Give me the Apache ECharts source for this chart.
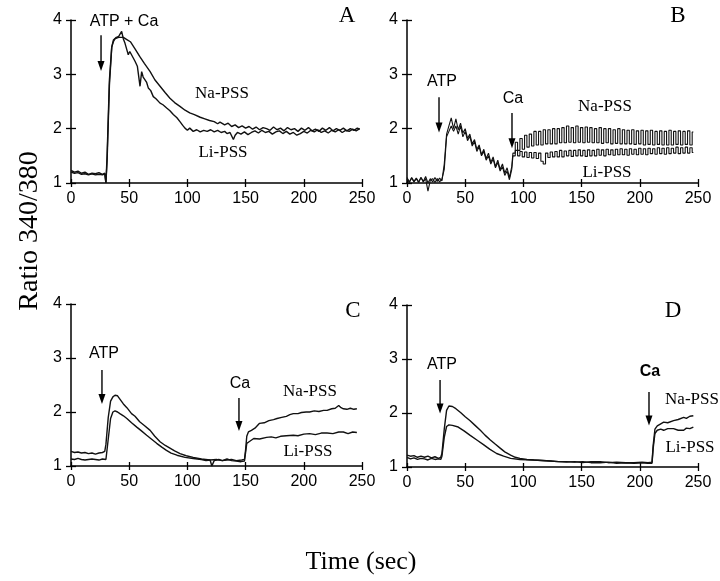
<!DOCTYPE html>
<html><head><meta charset="utf-8">
<script src="https://cdn.jsdelivr.net/npm/echarts/dist/echarts.min.js"></script>
<style>html,body{margin:0;padding:0;background:#fff}#c{width:720px;height:581px}</style>
</head><body><div id="c"></div>
<script>
// ---------- DATA (time in s, ratio 340/380) ----------
const xTicks = [0, 50, 100, 150, 200, 250];
const yTicks = [1, 2, 3, 4];

// Panel A: ATP + Ca
const aNa = [[0,1.2],[3,1.18],[6,1.19],[9,1.16],[12,1.17],[15,1.15],[18,1.17],[21,1.15],[24,1.16],[27,1.15],[29,1.17],[30,1.0],[31,1.5],[33,2.9],[35,3.5],[36.4,3.6],[38,3.66],[41,3.68],[45,3.68],[48,3.64],[51,3.6],[55,3.47],[59,3.33],[63,3.2],[68,3.05],[72,2.9],[76.5,2.78],[81,2.66],[85,2.56],[89,2.48],[93.6,2.41],[98,2.34],[102,2.29],[106,2.26],[111,2.21],[115,2.18],[119,2.15],[123,2.13],[126,2.09],[128,2.12],[132,2.07],[135,2.1],[138,2.04],[141,2.07],[144,2.02],[147,2.05],[150,2.01],[153,2.04],[156,1.99],[159,2.03],[162,1.98],[165,2.02],[168,2.0],[171,1.97],[174,2.03],[177,1.98],[180,2.01],[183,1.96],[186,2.02],[189,1.98],[192,2.0],[195,1.95],[198,2.01],[201,1.97],[204,2.02],[207,1.96],[210,1.99],[213,1.95],[216,2.01],[219,1.97],[222,2.02],[225,1.96],[228,2.0],[231,1.97],[234,2.01],[237,1.96],[240,2.0],[243,1.97],[246,2.01],[248,1.99]];
const aLi = [[0,1.23],[3,1.2],[6,1.22],[9,1.18],[12,1.2],[15,1.16],[18,1.18],[21,1.17],[24,1.19],[27,1.16],[29,1.18],[30,1.0],[31,1.4],[33,2.8],[35,3.5],[36.4,3.63],[39,3.68],[41,3.7],[43.5,3.79],[45,3.65],[46.4,3.57],[48,3.45],[49.2,3.36],[50.5,3.42],[52.1,3.45],[53.5,3.3],[55,3.24],[57,3.15],[59.3,2.78],[60.7,3.05],[62,2.95],[63.6,2.98],[65,2.85],[66.4,2.75],[68.5,2.7],[70.7,2.59],[73,2.55],[76.5,2.47],[79,2.44],[82.2,2.38],[85,2.33],[87.9,2.26],[91,2.2],[93.6,2.13],[96,2.06],[97.9,2.01],[100,1.97],[102,2.01],[105,1.95],[108,1.98],[111,1.94],[114,1.97],[117,1.95],[120,1.98],[123,1.94],[126,1.97],[129,1.93],[132,1.95],[134,1.91],[136.6,1.93],[139.5,1.8],[141,1.88],[143,1.93],[146,1.9],[149,1.94],[152,1.89],[155,1.93],[158,1.96],[161,1.92],[164,1.97],[167,1.93],[170,1.95],[173,1.9],[176,1.94],[179,1.96],[182,1.91],[185,1.95],[188,1.9],[191,1.93],[194,1.88],[197,1.91],[200,1.95],[203,1.92],[206,1.97],[209,1.94],[212,1.98],[215,1.93],[218,1.96],[221,1.92],[224,1.97],[227,1.94],[230,1.98],[233,1.93],[236,1.97],[239,1.95],[242,1.99],[245,1.96],[248,2.0]];

// Panel B: ATP then Ca (oscillating trace)
const bTime = [0,2,4,6,8,10,12,14,16,18, 20,22,24,26,28,30,32,34,36,38, 40,42,44,46,48,50,52,54,56,58, 60,62,64,66,68,70,72,74,76,78, 80,82,84,86,88,90,92,94,96,98, 100,102,104,106,108,110,112,114,116,118, 120,122,124,126,128,130,132,134,136,138, 140,142,144,146,148,150,152,154,156,158, 160,162,164,166,168,170,172,174,176,178, 180,182,184,186,188,190,192,194,196,198, 200,202,204,206,208,210,212,214,216,218, 220,222,224,226,228,230,232,234,236,238, 240,242,244,246];
const bNa = [1.1,1.02,1.1,1.03,1.09,1.02,1.1,1.03,1.12,1.0, 1.08,1.02,1.1,1.03,1.09,1.04,1.35,1.9,2.05,2.2, 2.0,2.18,1.98,2.1,1.92,2.0,1.82,1.9,1.72,1.8, 1.62,1.7,1.52,1.62,1.45,1.55,1.38,1.48,1.3,1.42, 1.25,1.35,1.18,1.28,1.1,1.3,1.55,1.75,1.6,1.82, 1.62,1.88,1.66,1.9,1.68,1.95,1.7,1.95,1.7,1.98, 1.72,1.98,1.72,2.0,1.72,2.0,1.74,2.02,1.74,2.05, 1.75,2.02,1.74,2.05,1.75,2.02,1.74,2.03,1.75,2.02, 1.74,2.0,1.74,2.02,1.73,2.0,1.74,2.0,1.72,1.98, 1.73,2.0,1.72,1.98,1.72,1.97,1.72,1.98,1.71,1.96, 1.72,1.97,1.7,1.96,1.71,1.97,1.7,1.95,1.71,1.96, 1.7,1.95,1.7,1.97,1.7,1.95,1.71,1.96,1.7,1.95, 1.71,1.96,1.7,1.94];
const bLi = [1.08,1.01,1.09,1.02,1.08,1.01,1.1,1.02,1.08,0.85, 1.05,1.08,1.01,1.08,1.02,1.07,1.25,1.85,1.95,2.05, 1.95,2.05,1.9,2.05,1.85,1.95,1.78,1.86,1.68,1.76, 1.58,1.67,1.5,1.58,1.42,1.5,1.35,1.44,1.28,1.38, 1.22,1.3,1.14,1.22,1.06,1.25,1.5,1.6,1.5,1.58, 1.48,1.57,1.47,1.56,1.46,1.56,1.45,1.55,1.4,1.35, 1.55,1.47,1.57,1.48,1.58,1.48,1.6,1.48,1.59,1.5, 1.6,1.49,1.6,1.5,1.61,1.5,1.6,1.49,1.61,1.5, 1.6,1.5,1.62,1.51,1.61,1.5,1.62,1.52,1.61,1.51, 1.62,1.52,1.63,1.52,1.62,1.51,1.63,1.53,1.62,1.52, 1.64,1.53,1.63,1.52,1.64,1.54,1.63,1.53,1.65,1.54, 1.64,1.53,1.65,1.54,1.64,1.55,1.66,1.54,1.65,1.55, 1.66,1.55,1.65,1.56];
const bCaIndex = 45; // index of the Ca addition (t = 90 s) in bTime

// Panel C: ATP, Ca at 150 s
const cNa = [[0,1.27],[3,1.25],[6,1.26],[9,1.24],[12,1.25],[15,1.23],[18,1.24],[21,1.22],[24,1.24],[27,1.25],[29,1.27],[30,1.4],[32,1.9],[34,2.2],[36,2.28],[37.8,2.31],[40,2.3],[42,2.24],[45,2.15],[48,2.08],[52,1.97],[55,1.92],[59,1.82],[63,1.75],[68,1.66],[72,1.55],[76.5,1.45],[81,1.38],[85,1.33],[89,1.28],[93.7,1.23],[99,1.19],[105,1.16],[112,1.13],[119.5,1.11],[125,1.12],[130,1.1],[134,1.11],[138,1.12],[142,1.1],[146.7,1.11],[149,1.12],[150,1.3],[151,1.55],[152.4,1.63],[155,1.66],[158,1.7],[162,1.79],[166,1.8],[170,1.84],[174,1.86],[177,1.88],[181,1.9],[185,1.92],[188,1.95],[191,1.97],[195,1.97],[198,1.99],[202,2.0],[205,2.0],[209,2.02],[213,2.01],[217,2.03],[220,2.03],[224,2.06],[227,2.07],[230,2.12],[232,2.08],[234,2.06],[237,2.05],[240,2.07],[243,2.05],[245.6,2.06]];
const cLi = [[0,1.13],[3,1.12],[6,1.14],[9,1.12],[12,1.11],[15,1.12],[18,1.13],[21,1.12],[24,1.11],[27,1.13],[30,1.12],[31,1.14],[32,1.5],[34,1.88],[36,2.0],[37.8,2.02],[40,2.0],[42,1.97],[45,1.93],[48,1.88],[52,1.8],[56.5,1.72],[60,1.66],[65,1.57],[69,1.5],[73.6,1.42],[78,1.35],[82,1.29],[86,1.24],[91,1.2],[98,1.16],[105,1.14],[112,1.12],[116,1.1],[119.5,1.11],[121,1.0],[123,1.1],[127,1.12],[130,1.1],[134,1.13],[138,1.1],[142,1.09],[146,1.08],[149,1.09],[150,1.25],[151,1.42],[153,1.45],[157,1.51],[162,1.5],[168,1.53],[172,1.54],[176,1.52],[180,1.55],[185,1.56],[191,1.57],[195,1.56],[200,1.59],[205,1.6],[210,1.58],[215,1.61],[220,1.61],[225,1.6],[230,1.63],[234,1.63],[238,1.6],[242,1.63],[245.6,1.62]];

// Panel D: ATP, Ca at 210 s
const dNa = [[0,1.22],[3,1.2],[6,1.21],[9,1.18],[12,1.2],[15,1.18],[18,1.2],[21,1.17],[24,1.19],[27,1.16],[29,1.18],[30,1.25],[32,1.7],[34,2.05],[36,2.13],[37,2.15],[39,2.12],[42,2.08],[46,2.01],[50,1.93],[54,1.86],[58,1.78],[63,1.68],[67,1.59],[71.6,1.5],[76,1.42],[80,1.35],[84,1.28],[89,1.22],[93,1.18],[97,1.16],[103,1.14],[109,1.13],[116,1.12],[123,1.11],[130,1.1],[137,1.09],[144,1.1],[151,1.08],[158,1.1],[166,1.1],[173,1.08],[180,1.09],[188,1.08],[195,1.08],[202,1.09],[207,1.08],[210.5,1.09],[211.5,1.4],[213,1.7],[215,1.76],[218,1.8],[220.5,1.83],[224,1.82],[229,1.86],[233,1.88],[237.7,1.92],[240,1.9],[243,1.94],[246,1.95]];
const dLi = [[0,1.18],[3,1.15],[6,1.17],[9,1.14],[12,1.16],[15,1.15],[18,1.13],[21,1.16],[24,1.14],[27,1.15],[29,1.14],[30,1.2],[32,1.55],[34,1.75],[36,1.78],[39,1.77],[44,1.74],[49,1.67],[54,1.59],[60,1.5],[66,1.41],[71,1.33],[77,1.25],[83,1.2],[89,1.16],[97,1.14],[109,1.13],[116,1.12],[123,1.11],[130,1.1],[137,1.1],[144,1.09],[151,1.1],[158,1.08],[166,1.08],[173,1.09],[180,1.07],[188,1.08],[195,1.07],[202,1.08],[207,1.07],[210.5,1.07],[211.5,1.35],[213,1.62],[215,1.68],[218,1.7],[220.5,1.68],[224,1.71],[229,1.71],[233,1.68],[237.7,1.68],[240,1.72],[243,1.71],[246,1.74]];

// Annotation arrows (panel index, time, top value, tip value)
const arrows = [
  {g:0, t:25.8, from:3.72, to:3.06},
  {g:1, t:27.5, from:2.58, to:1.93},
  {g:1, t:90.2, from:2.29, to:1.64},
  {g:2, t:26.6, from:2.78, to:2.15},
  {g:2, t:144.3, from:2.26, to:1.65},
  {g:3, t:28.4, from:2.61, to:1.99},
  {g:3, t:207.9, from:2.39, to:1.77}
];

// ---------- LAYOUT ----------
const grids = [
  {left:71, top:20, width:291, height:163},
  {left:407, top:20, width:291, height:163},
  {left:71, top:304, width:291, height:162},
  {left:407, top:305, width:291, height:162}
];
const LBL = {color:'#000', fontFamily:'"Liberation Sans", Arial, sans-serif', fontSize:16};
function xAx(g, inside){
  return {type:'value', gridIndex:g, position:'bottom', min:xTicks[0], max:xTicks[xTicks.length-1], interval:xTicks[1]-xTicks[0],
    axisLine:{show:!inside, onZero:false, lineStyle:{color:'#000', width:1.5}},
    axisTick:{show:true, inside:inside, length:4, lineStyle:{color:'#000', width:1.3}},
    axisLabel:Object.assign({show:!inside, margin:8}, LBL), splitLine:{show:false}};
}
function yAx(g, inside){
  return {type:'value', gridIndex:g, position:'left', min:yTicks[0], max:yTicks[yTicks.length-1], interval:1,
    axisLine:{show:!inside, onZero:false, lineStyle:{color:'#000', width:1.5}},
    axisTick:{show:true, inside:inside, length:5, lineStyle:{color:'#000', width:1.3}},
    axisLabel:Object.assign({show:!inside, margin:9}, LBL), splitLine:{show:false}};
}
const xAxis = [], yAxis = [];
for (let g=0; g<4; g++){ xAxis.push(xAx(g,false)); yAxis.push(yAx(g,false)); }
for (let g=0; g<4; g++){ xAxis.push(xAx(g,true)); yAxis.push(yAx(g,true)); }

function line(name, data, g, w, step){
  return {type:'line', name:name, data:data, xAxisIndex:g, yAxisIndex:g, showSymbol:false, symbol:'none', step:step||false,
    animation:false, silent:true, clip:false, lineStyle:{color:'#111', width:w}};
}
const bNaPts = bTime.map((t,i)=>[t,bNa[i]]);
const bLiPts = bTime.map((t,i)=>[t,bLi[i]]);

const series = [
  line('Na-PSS A', aNa, 0, 1.4), line('Li-PSS A', aLi, 0, 1.4),
  line('Na-PSS B1', bNaPts.slice(0, bCaIndex+1), 1, 1.1), line('Li-PSS B1', bLiPts.slice(0, bCaIndex+1), 1, 1.1),
  line('Na-PSS B2', bNaPts.slice(bCaIndex), 1, 1.1, 'middle'), line('Li-PSS B2', bLiPts.slice(bCaIndex), 1, 1.1, 'middle'),
  line('Na-PSS C', cNa, 2, 1.4), line('Li-PSS C', cLi, 2, 1.4),
  line('Na-PSS D', dNa, 3, 1.4), line('Li-PSS D', dLi, 3, 1.4)
];

const SERIF = '"Liberation Serif", "Times New Roman", serif';
const SANS = '"Liberation Sans", Arial, sans-serif';
function txt(s, x, y, font, align){
  return {type:'text', x:x, y:y, silent:true, style:{text:s, font:font, fill:'#000', textAlign:align||'center', verticalAlign:'middle'}};
}
const texts = [
  txt('A', 347, 16, '23px '+SERIF), txt('B', 678, 16, '23px '+SERIF),
  txt('C', 353, 311, '23px '+SERIF), txt('D', 673, 311, '23px '+SERIF),
  txt('ATP + Ca', 124, 22, '16px '+SANS),
  txt('Na-PSS', 222, 94, '17px '+SERIF), txt('Li-PSS', 223, 153, '17px '+SERIF),
  txt('ATP', 442, 82, '16px '+SANS), txt('Ca', 513, 99, '16px '+SANS),
  txt('Na-PSS', 605, 107, '17px '+SERIF), txt('Li-PSS', 607, 173, '17px '+SERIF),
  txt('ATP', 104, 354, '16px '+SANS), txt('Ca', 240, 384, '16px '+SANS),
  txt('Na-PSS', 310, 392, '17px '+SERIF), txt('Li-PSS', 308, 452, '17px '+SERIF),
  txt('ATP', 442, 365, '16px '+SANS), txt('Ca', 650, 372, 'bold 16px '+SANS),
  txt('Na-PSS', 692, 400, '17px '+SERIF), txt('Li-PSS', 690, 448, '17px '+SERIF),
  txt('Time (sec)', 361, 562, '26px '+SERIF),
  {type:'text', x:30, y:231, rotation:Math.PI/2, silent:true,
   style:{text:'Ratio 340/380', font:'28px '+SERIF, fill:'#000', textAlign:'center', verticalAlign:'middle'}}
];

const chart = echarts.init(document.getElementById('c'), null, {renderer:'canvas'});
chart.setOption({animation:false, backgroundColor:'#fff', grid:grids, xAxis:xAxis, yAxis:yAxis, series:series, graphic:texts});

const arrowEls = [];
arrows.forEach(a=>{
  const p1 = chart.convertToPixel({gridIndex:a.g}, [a.t, a.from]);
  const p2 = chart.convertToPixel({gridIndex:a.g}, [a.t, a.to]);
  arrowEls.push({type:'line', silent:true, shape:{x1:p1[0], y1:p1[1], x2:p2[0], y2:p2[1]-6}, style:{stroke:'#000', lineWidth:1.4}});
  arrowEls.push({type:'polygon', silent:true, shape:{points:[[p2[0]-3.5,p2[1]-10],[p2[0]+3.5,p2[1]-10],[p2[0],p2[1]]]}, style:{fill:'#000'}});
});
chart.setOption({graphic: texts.concat(arrowEls)}, {replaceMerge:['graphic']});
</script>
</body></html>
